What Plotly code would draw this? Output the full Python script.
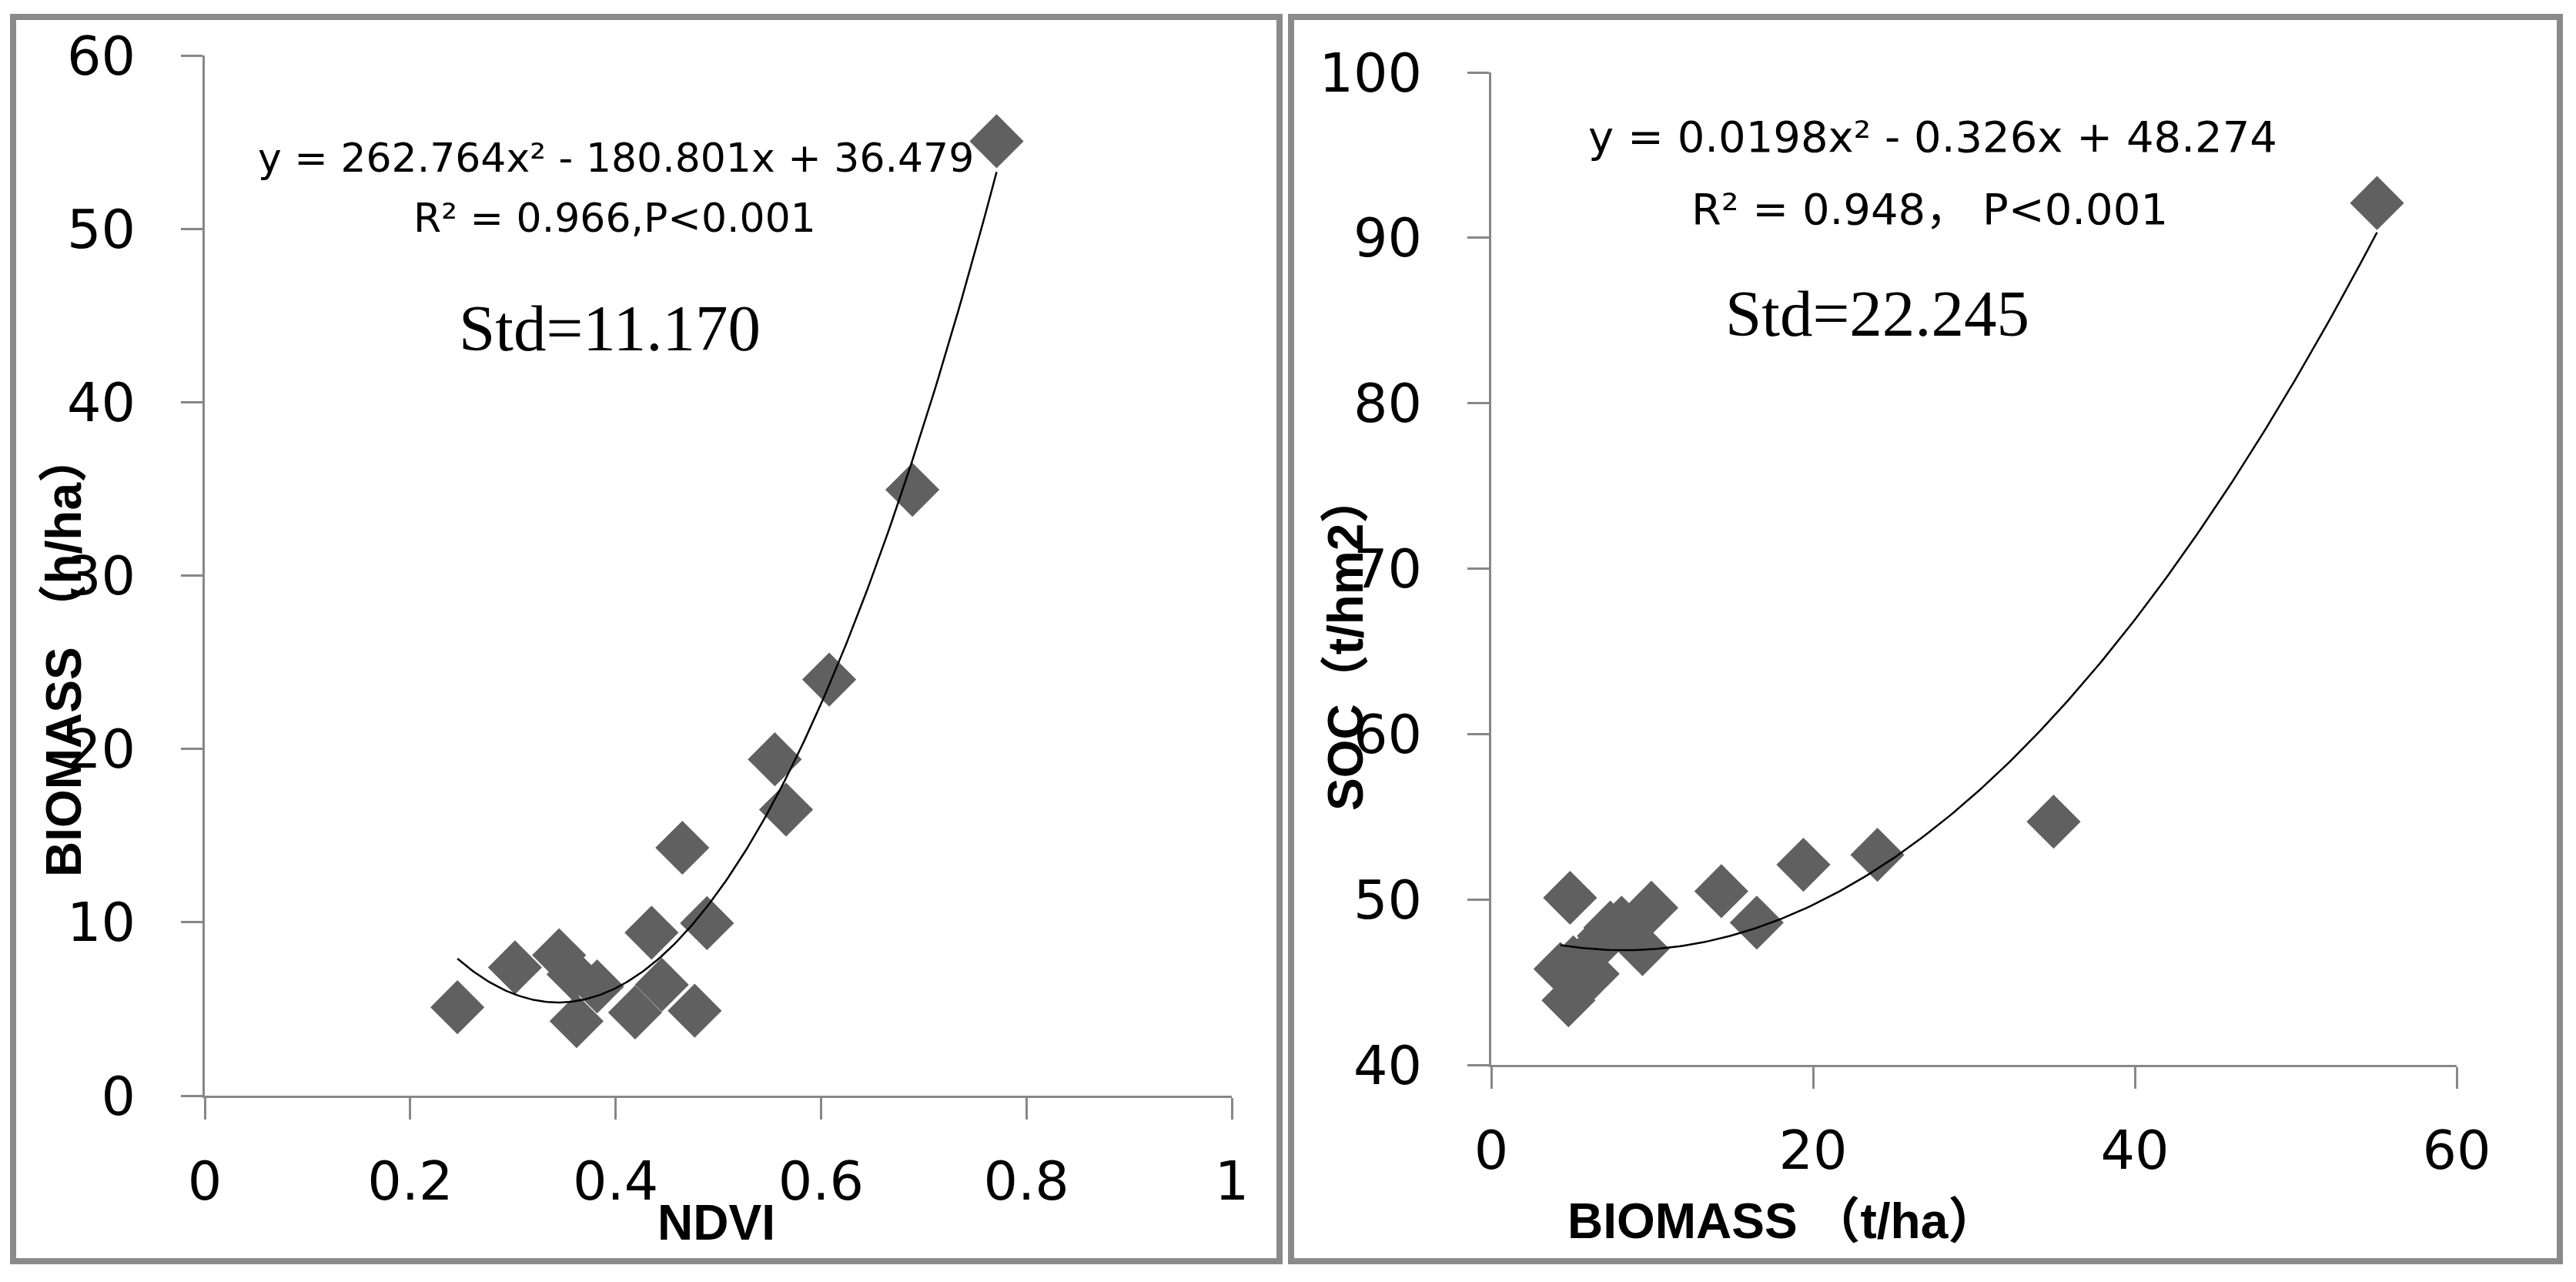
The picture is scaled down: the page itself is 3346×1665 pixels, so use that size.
import numpy as np
import plotly.graph_objects as go

W, H = 3346, 1665

# samples (same plots, biomass shared)
ndvi = [0.246, 0.302, 0.345, 0.359, 0.382, 0.362, 0.419, 0.445, 0.477,
        0.435, 0.489, 0.465, 0.555, 0.566, 0.608, 0.689, 0.771]
biomass = [5.1, 7.4, 8.1, 7.0, 6.3, 4.3, 4.8, 6.4, 4.9,
           9.4, 9.95, 14.3, 19.4, 16.5, 24.0, 34.95, 55.05]
soc = [46.2, 48.3, 48.6, 47.8, 45.5, 45.8, 43.9, 47.0, 50.1,
       47.0, 49.5, 50.5, 52.1, 48.6, 52.7, 54.7, 92.1]

# quadratic trendlines as printed on the chart: a*x^2 + b*x + c
fit_biomass = [262.764, -180.801, 36.479]
fit_soc = [0.0198, -0.326, 48.274]

ndvi_ticks = [0, 0.2, 0.4, 0.6, 0.8, 1]
ndvi_ticktext = ["0", "0.2", "0.4", "0.6", "0.8", "1"]
biomass_yticks = [0, 10, 20, 30, 40, 50, 60]
biomass_xticks = [0, 20, 40, 60]
soc_ticks = [40, 50, 60, 70, 80, 90, 100]

GREY = "#878787"
MARKER = "#606060"


def px(x):
    return x / W


def py(y):
    return 1 - y / H


fig = go.Figure()

marker = dict(symbol="diamond", size=54, color=MARKER, line=dict(width=0))

fig.add_trace(go.Scatter(x=ndvi, y=biomass, mode="markers", marker=marker,
                         xaxis="x", yaxis="y", showlegend=False))
xl = np.linspace(min(ndvi), max(ndvi), 200)
fig.add_trace(go.Scatter(x=xl, y=np.polyval(fit_biomass, xl), mode="lines",
                         line=dict(color="black", width=2.5),
                         xaxis="x", yaxis="y", showlegend=False))

fig.add_trace(go.Scatter(x=biomass, y=soc, mode="markers", marker=marker,
                         xaxis="x2", yaxis="y2", showlegend=False))
xr = np.linspace(min(biomass), max(biomass), 200)
fig.add_trace(go.Scatter(x=xr, y=np.polyval(fit_soc, xr), mode="lines",
                         line=dict(color="black", width=2.5),
                         xaxis="x2", yaxis="y2", showlegend=False))

axis = dict(showline=True, linecolor=GREY, linewidth=3, ticks="outside",
            ticklen=28, tickwidth=3, tickcolor=GREY, showgrid=False,
            zeroline=False, automargin=False,
            tickfont=dict(family="DejaVu Sans", size=70, color="black"))
xstand = 20
ystand = 45

fig.update_layout(
    width=W, height=H, autosize=False,
    margin=dict(l=0, r=0, t=0, b=0, pad=0),
    paper_bgcolor="white", plot_bgcolor="white",
    xaxis=dict(axis, domain=[px(266), px(1600)], range=[0, 1], anchor="y",
               tickvals=ndvi_ticks, ticktext=ndvi_ticktext,
               ticklabelstandoff=xstand),
    yaxis=dict(axis, domain=[py(1423), py(72)], range=[0, 60], anchor="x",
               tickvals=biomass_yticks, ticklabelstandoff=ystand),
    xaxis2=dict(axis, domain=[px(1937), px(3191)], range=[0, 60], anchor="y2",
                tickvals=biomass_xticks, ticklabelstandoff=xstand),
    yaxis2=dict(axis, domain=[py(1383), py(94)], range=[40, 100], anchor="x2",
                tickvals=soc_ticks, ticklabelstandoff=ystand),
)

# panel frames
for x0, x1 in [(17, 1662), (1677, 3325)]:
    fig.add_shape(type="rect", xref="paper", yref="paper",
                  x0=px(x0), x1=px(x1), y0=py(1638), y1=py(22),
                  line=dict(color="#8a8a8a", width=8))

title_font = dict(family="Liberation Sans, Arial, Noto Sans CJK SC", size=64, color="black")
eq_font = dict(family="DejaVu Sans, Noto Sans CJK SC", color="black")
std_font = dict(family="Liberation Serif, Times New Roman", size=85, color="black")

notes = [
    # text, x, y, angle, font
    ("<b>NDVI</b>", 930, 1588, 0, title_font),
    ("<b>BIOMASS\u00a0（h/ha）</b>", 83, 851, -90, title_font),
    ("<b>BIOMASS\u00a0（t/ha）</b>", 2315, 1586, 0, title_font),
    ("<b>SOC（t/hm2）</b>", 1748, 835, -90, title_font),
    ("y = 262.764x² - 180.801x + 36.479", 800, 205, 0, dict(eq_font, size=52)),
    ("R² = 0.966,P&lt;0.001", 798, 283, 0, dict(eq_font, size=52)),
    ("y = 0.0198x² - 0.326x + 48.274", 2510, 178, 0, dict(eq_font, size=56)),
    ("R² = 0.948， P&lt;0.001", 2506, 271, 0, dict(eq_font, size=56)),
    ("Std=11.170", 792, 426, 0, std_font),
    ("Std=22.245", 2438, 407, 0, std_font),
]
for text, x, y, ang, font in notes:
    fig.add_annotation(text=text, x=px(x), y=py(y), xref="paper", yref="paper",
                       xanchor="center", yanchor="middle", textangle=ang,
                       showarrow=False, font=font)

fig.write_html("out.html", post_script="document.body.style.margin='0';",
               config={"displayModeBar": False})
